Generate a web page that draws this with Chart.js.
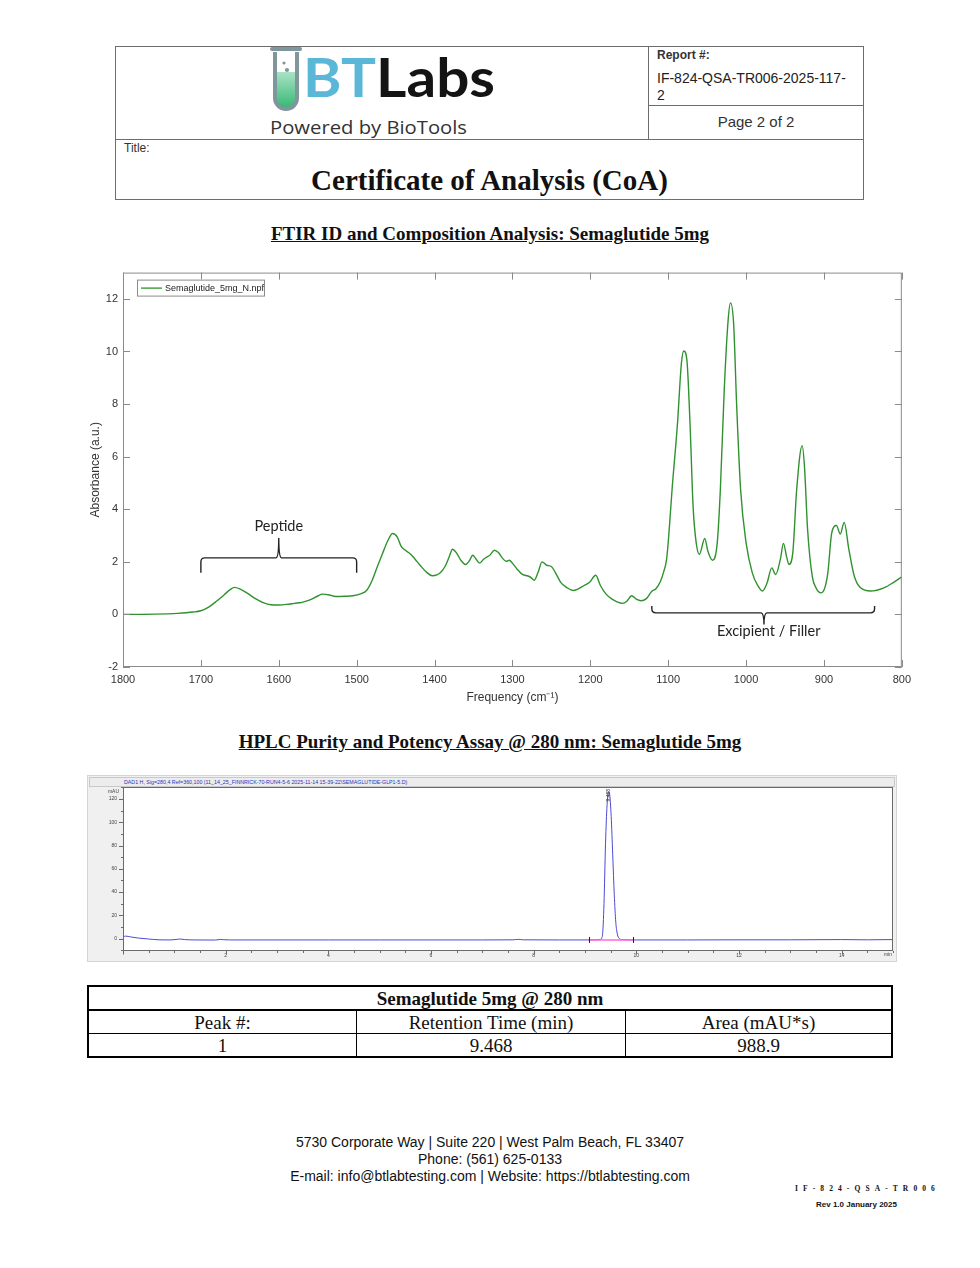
<!DOCTYPE html>
<html>
<head>
<meta charset="utf-8">
<title>Certificate of Analysis - Semaglutide 5mg</title>
<script src="https://cdn.jsdelivr.net/npm/chart.js@4.4.1/dist/chart.umd.min.js"></script>
<style>
  body { margin: 0; background: #fff; }
  #page { position: relative; width: 980px; height: 1268px; overflow: hidden;
          font-family: "Liberation Sans", Arial, sans-serif; color: #111; }
  .abs { position: absolute; }
  .ln { position: absolute; background: #6d6d6d; }
  .serif { font-family: "Liberation Serif", "Times New Roman", serif; }
  .sect { left: 0; width: 980px; text-align: center; font-weight: bold; font-size: 19px; text-decoration: underline; }
  #hplcBox { left: 87px; top: 775px; width: 810px; height: 187px; box-sizing: border-box;
             background: #f0f0f0; border: 1px solid #d4d4d4; }
  #hplcHead { left: 89px; top: 777px; width: 806px; height: 10px; box-sizing: border-box;
              background: #ececec; border: 1px solid #c9c9c9; font-size: 5.3px; line-height: 8px;
              color: #2535c0; padding-left: 34px; white-space: nowrap; }
  table.res { position: absolute; left: 87px; top: 985px; width: 806px; border-collapse: collapse;
              font-family: "Liberation Serif", "Times New Roman", serif; font-size: 19px; }
  table.res td { border: 1px solid #000; text-align: center; padding: 0; height: 22px; line-height: 21px; }
  table.res { border: 2.5px solid #000; }
  table.res tr.top td { font-weight: bold; border-bottom: 2.5px solid #000; }
  .foot { left: 0; width: 980px; text-align: center; font-size: 14px; line-height: 17px; color: #111; }
</style>
</head>
<body>
<div id="page">

  <!-- header block -->
  <div class="abs" style="left:115px;top:46px;width:749px;height:154px;box-sizing:border-box;border:1px solid #6d6d6d;"></div>
  <div class="ln" style="left:648px;top:46px;width:1px;height:93px;"></div>
  <div class="ln" style="left:648px;top:105px;width:216px;height:1px;"></div>
  <div class="ln" style="left:115px;top:139px;width:749px;height:1px;"></div>

  <svg class="abs" style="left:260px;top:44px;" width="250" height="96" viewBox="0 0 250 96">
    <defs>
      <linearGradient id="tubeFill" x1="0" y1="0" x2="0" y2="1">
        <stop offset="0" stop-color="#a9e3c4"/>
        <stop offset="1" stop-color="#35b873"/>
      </linearGradient>
    </defs>
    <path d="M16 28 L16 54 A10 10 0 0 0 36 54 L36 28 Z" fill="url(#tubeFill)"/>
    <path d="M15 8 L15 54 A11 11 0 0 0 37 54 L37 8" fill="none" stroke="#7f969d" stroke-width="4"/>
    <line x1="12" y1="5" x2="40" y2="5" stroke="#7f969d" stroke-width="4" stroke-linecap="round"/>
    <circle cx="24" cy="19" r="1.6" fill="#7f969d"/>
    <circle cx="27" cy="26" r="2.1" fill="#7f969d"/>
    <text x="43" y="53" font-family="Lato, 'Open Sans', sans-serif" font-weight="bold" font-size="54" textLength="192" lengthAdjust="spacingAndGlyphs"><tspan fill="#5bb7d7">BT</tspan><tspan fill="#141414">Labs</tspan></text>
    <text x="10" y="90" font-family="'Open Sans', 'Noto Sans', sans-serif" font-size="18.5" fill="#333" textLength="197" lengthAdjust="spacingAndGlyphs">Powered by BioTools</text>
  </svg>

  <div class="abs" style="left:657px;top:48px;font-size:12px;font-weight:bold;color:#333;">Report #:</div>
  <div class="abs" style="left:657px;top:70px;font-size:14px;line-height:17px;color:#222;">IF-824-QSA-TR006-2025-117-<br>2</div>
  <div class="abs" style="left:648px;top:113px;width:216px;text-align:center;font-size:15px;color:#333;">Page 2 of 2</div>
  <div class="abs" style="left:124px;top:141px;font-size:12px;color:#333;">Title:</div>
  <div class="abs serif" style="left:115px;top:163px;width:749px;text-align:center;font-size:29px;line-height:34px;font-weight:bold;">Certificate of Analysis (CoA)</div>

  <div class="abs serif sect" style="top:223px;">FTIR ID and Composition Analysis: Semaglutide 5mg</div>

  <canvas id="ftir" class="abs" width="837" height="454" style="left:80px;top:261px;width:837px;height:454px;"></canvas>

  <div class="abs serif sect" style="top:731px;">HPLC Purity and Potency Assay @ 280 nm: Semaglutide 5mg</div>

  <div id="hplcBox" class="abs"></div>
  <div id="hplcHead" class="abs">DAD1 H, Sig=280,4 Ref=360,100 (11_14_25_FINNRICK-70-RUN4-5-6 2025-11-14 15-39-22\SEMAGLUTIDE-GLP1-5.D)</div>
  <canvas id="hplc" class="abs" width="806" height="182" style="left:89px;top:778px;width:806px;height:182px;"></canvas>

  <table class="res">
    <tr class="top"><td colspan="3">Semaglutide 5mg @ 280 nm</td></tr>
    <tr><td style="width:267px;">Peak #:</td><td style="width:268px;">Retention Time (min)</td><td>Area (mAU*s)</td></tr>
    <tr><td>1</td><td>9.468</td><td>988.9</td></tr>
  </table>

  <div class="abs foot" style="top:1134px;">5730 Corporate Way | Suite 220 | West Palm Beach, FL 33407<br>Phone: (561) 625-0133<br>E-mail: info@btlabtesting.com | Website: https://btlabtesting.com</div>

  <div class="abs serif" style="left:795px;top:1184px;font-size:7.5px;font-weight:bold;letter-spacing:5.1px;white-space:nowrap;">IF-824-QSA-TR006</div>
  <div class="abs" style="left:816px;top:1200px;font-size:8px;font-weight:bold;white-space:nowrap;">Rev 1.0 January 2025</div>
</div>

<script>
// FTIR spectrum (wavenumber cm-1 / absorbance a.u.)
const ftirFreq = [1800, 1760, 1730, 1710, 1700, 1690, 1680, 1670, 1662, 1657, 1650, 1640, 1630, 1620, 1610,
  1600, 1590, 1580, 1570, 1560, 1550, 1544, 1535, 1527, 1515, 1505, 1495, 1487, 1480, 1473,
  1467, 1460, 1454, 1448, 1443, 1438, 1431, 1425, 1418, 1410, 1403, 1397, 1392, 1386, 1381,
  1377, 1372, 1366, 1360, 1355, 1351, 1347, 1342, 1337, 1333, 1329, 1323, 1318, 1313, 1308,
  1304, 1300, 1294, 1287, 1280, 1276, 1272, 1267, 1262, 1256, 1250, 1245, 1238, 1230, 1222,
  1215, 1208, 1201, 1193, 1187, 1180, 1172, 1165, 1159, 1153, 1147, 1141, 1135, 1128, 1121,
  1116, 1110, 1106, 1102, 1099, 1095, 1088, 1083, 1080, 1076, 1072, 1068, 1064, 1060, 1053,
  1049, 1043, 1037, 1033, 1028, 1023, 1020, 1016, 1012, 1007, 1000, 992, 985, 979, 973,
  967, 962, 956, 952, 948, 945, 940, 935, 928, 925, 921, 915, 910, 904, 899,
  895, 890, 884, 879, 874, 868, 861, 853, 840, 823, 810, 800];
const ftirAbs = [0.00, 0.01, 0.04, 0.09, 0.14, 0.28, 0.50, 0.75, 0.95, 1.03, 0.97, 0.80, 0.60, 0.45, 0.37,
  0.36, 0.38, 0.42, 0.46, 0.55, 0.70, 0.77, 0.74, 0.68, 0.69, 0.71, 0.78, 0.92, 1.30, 1.85,
  2.30, 2.80, 3.08, 2.95, 2.60, 2.45, 2.30, 2.10, 1.85, 1.60, 1.47, 1.50, 1.60, 1.85, 2.20,
  2.48, 2.35, 2.05, 1.90, 2.05, 2.25, 2.12, 1.95, 2.10, 2.18, 2.25, 2.44, 2.35, 2.15, 2.02,
  2.06, 1.95, 1.72, 1.52, 1.46, 1.40, 1.30, 1.60, 2.00, 1.87, 1.82, 1.60, 1.22, 1.02, 0.91,
  0.98, 1.10, 1.22, 1.49, 1.10, 0.78, 0.58, 0.47, 0.42, 0.50, 0.71, 0.58, 0.52, 0.60, 0.88,
  0.97, 1.25, 1.60, 2.10, 3.10, 4.75, 7.28, 9.56, 10.02, 9.68, 7.30, 4.10, 2.72, 2.28, 2.89,
  2.40, 2.06, 2.72, 4.75, 8.55, 11.20, 11.85, 11.08, 7.90, 4.75, 2.73, 1.58, 1.10, 0.89, 1.20,
  1.77, 1.52, 2.09, 2.70, 2.20, 1.90, 2.34, 4.75, 6.42, 5.63, 3.23, 1.45, 1.00, 0.82, 1.00,
  1.58, 3.10, 3.38, 3.06, 3.50, 2.47, 1.45, 1.01, 0.89, 1.01, 1.23, 1.43];
const ftirXTicks = [1800, 1700, 1600, 1500, 1400, 1300, 1200, 1100, 1000, 900, 800];
const ftirYTicks = [-2, 0, 2, 4, 6, 8, 10, 12];
const ftirSeriesName = 'Semaglutide_5mg_N.npf';

// bracket annotations: [label, x from, x to, x mid, y line, y ends, y tip, label x, label y]
const ftirBrackets = [
  ['Peptide', 1700, 1500, 1600, 2.15, 1.58, 2.91, 1600, 3.35],
  ['Excipient / Filler', 1121, 835, 977, 0.06, 0.32, -0.38, 971, -0.63]
];

// HPLC chromatogram (min / mAU)
const hplcTime = [0, 0.05, 0.15, 0.3, 0.5, 0.7, 0.9, 1.05, 1.1, 1.2, 1.4, 1.8, 1.9, 1.95, 2.2, 3, 4, 5, 6, 7,
  7.6, 7.7, 7.8, 8.5, 9.0, 9.2, 9.3, 9.34, 9.37, 9.40, 9.43, 9.46, 9.48, 9.51, 9.54, 9.57, 9.60, 9.63, 9.67, 9.72,
  10, 11, 12, 13, 14, 14.5, 15];
const hplcAbs = [1.5, 2.2, 1.5, 0.5, -0.3, -1.0, -1.1, -0.6, -0.3, -0.8, -1.1, -1.2, -0.6, -0.9, -1.1, -1.1, -1.1, -1.1, -1.1, -1.1,
  -1.0, -0.6, -1.0, -1.1, -1.1, -1.0, -0.6, 3, 30, 82, 115, 126, 124, 105, 72, 38, 14, 4, 0, -0.8,
  -1.1, -1.1, -1.0, -1.0, -0.8, -1.0, -0.8];
const hplcBaseTime = [9.07, 9.94];
const hplcBaseAbs = [-1.1, -1.1];
const hplcPeakRT = 9.468;
const hplcPeakLabel = '9.468';

const SANS = '"Liberation Sans", Arial, sans-serif';

function toPoints(xs, ys) {
  return xs.map((x, i) => ({ x, y: ys[i] }));
}

function drawBracket(ctx, x, y, b) {
  const [label, xa, xb, xm, yl, ye, yt, lx, ly] = b;
  const pa = x.getPixelForValue(xa), pb = x.getPixelForValue(xb), pm = x.getPixelForValue(xm);
  const pl = y.getPixelForValue(yl), pe = y.getPixelForValue(ye), pt = y.getPixelForValue(yt);
  const dir = pb > pa ? 1 : -1;
  const se = pe > pl ? 1 : -1;
  const r = 4;
  ctx.beginPath();
  ctx.moveTo(pa, pe);
  ctx.lineTo(pa, pl + se * r);
  ctx.quadraticCurveTo(pa, pl, pa + dir * r, pl);
  ctx.lineTo(pm - dir * 3, pl);
  ctx.quadraticCurveTo(pm, pl, pm, pt);
  ctx.quadraticCurveTo(pm, pl, pm + dir * 3, pl);
  ctx.lineTo(pb - dir * r, pl);
  ctx.quadraticCurveTo(pb, pl, pb, pl + se * r);
  ctx.lineTo(pb, pe);
  ctx.stroke();
  ctx.fillText(label, x.getPixelForValue(lx), y.getPixelForValue(ly));
}

const ftirDecor = {
  id: 'ftirDecor',
  afterDraw(chart) {
    const { ctx, chartArea: a, scales: { x, y } } = chart;
    ctx.save();
    ctx.strokeStyle = '#8a8a8a';
    ctx.lineWidth = 1;
    ctx.strokeRect(a.left + 0.5, a.top + 0.5, a.width - 1, a.height - 1);
    ctx.beginPath();
    ftirXTicks.forEach(v => {
      const px = Math.round(x.getPixelForValue(v)) + 0.5;
      ctx.moveTo(px, a.bottom); ctx.lineTo(px, a.bottom - 7);
      ctx.moveTo(px, a.top); ctx.lineTo(px, a.top + 7);
    });
    ftirYTicks.forEach(v => {
      const py = Math.round(y.getPixelForValue(v)) + 0.5;
      ctx.moveTo(a.left, py); ctx.lineTo(a.left + 7, py);
      ctx.moveTo(a.right, py); ctx.lineTo(a.right - 7, py);
    });
    ctx.stroke();

    // axis titles
    ctx.fillStyle = '#333';
    ctx.font = '12px ' + SANS;
    ctx.textAlign = 'center';
    ctx.textBaseline = 'middle';
    ctx.fillText('Frequency (cm\u207B\u00B9)', (a.left + a.right) / 2, a.bottom + 31);
    ctx.save();
    ctx.translate(a.left - 27, (a.top + a.bottom) / 2);
    ctx.rotate(-Math.PI / 2);
    ctx.fillText('Absorbance (a.u.)', 0, 0);
    ctx.restore();

    // legend
    ctx.fillStyle = '#fff';
    ctx.fillRect(a.left + 14, a.top + 7, 127, 16);
    ctx.strokeStyle = '#8a8a8a';
    ctx.strokeRect(a.left + 14.5, a.top + 7.5, 127, 16);
    ctx.strokeStyle = '#2f922f';
    ctx.lineWidth = 1.3;
    ctx.beginPath();
    ctx.moveTo(a.left + 18, a.top + 15.5); ctx.lineTo(a.left + 39, a.top + 15.5);
    ctx.stroke();
    ctx.fillStyle = '#222';
    ctx.font = '9px ' + SANS;
    ctx.textAlign = 'left';
    ctx.fillText(ftirSeriesName, a.left + 42, a.top + 16);

    // brackets
    ctx.strokeStyle = '#222';
    ctx.lineWidth = 1.4;
    ctx.fillStyle = '#222';
    ctx.font = '14.5px Lato, "Open Sans", sans-serif';
    ctx.textAlign = 'center';
    ftirBrackets.forEach(b => drawBracket(ctx, x, y, b));
    ctx.restore();
  }
};

new Chart(document.getElementById('ftir'), {
  type: 'line',
  data: {
    datasets: [{
      label: ftirSeriesName,
      data: toPoints(ftirFreq, ftirAbs),
      borderColor: '#2f922f',
      borderWidth: 1.4,
      pointRadius: 0,
      cubicInterpolationMode: 'monotone',
      fill: false
    }]
  },
  options: {
    responsive: false,
    animation: false,
    devicePixelRatio: 1,
    layout: { padding: { top: 4, right: 10, left: 0, bottom: 0 } },
    plugins: { legend: { display: false }, tooltip: { enabled: false } },
    scales: {
      x: {
        type: 'linear', reverse: true, min: 800, max: 1800,
        grid: { display: false, drawTicks: false }, border: { display: false },
        afterBuildTicks: s => { s.ticks = ftirXTicks.map(v => ({ value: v })); },
        afterFit: s => { s.height = 48; },
        ticks: { padding: 6, color: '#333', font: { family: SANS, size: 11 }, maxRotation: 0, autoSkip: false,
                 callback: v => String(v) }
      },
      y: {
        min: -2, max: 13,
        grid: { display: false, drawTicks: false }, border: { display: false },
        afterBuildTicks: s => { s.ticks = ftirYTicks.map(v => ({ value: v })); },
        afterFit: s => { s.width = 43; },
        ticks: { padding: 5, color: '#333', font: { family: SANS, size: 11 }, callback: v => String(v) }
      }
    }
  },
  plugins: [ftirDecor]
});

const hplcDecor = {
  id: 'hplcDecor',
  beforeDraw(chart) {
    const { ctx, chartArea: a } = chart;
    ctx.save();
    ctx.fillStyle = '#fff';
    ctx.fillRect(a.left, a.top, a.width, a.height);
    ctx.restore();
  },
  afterDraw(chart) {
    const { ctx, chartArea: a, scales: { x, y } } = chart;
    ctx.save();
    ctx.strokeStyle = '#6a6a6a';
    ctx.lineWidth = 1;
    ctx.strokeRect(a.left + 0.5, a.top + 0.5, a.width - 1, a.height - 1);
    ctx.beginPath();
    x.ticks.forEach(t => {
      const px = Math.round(x.getPixelForValue(t.value)) + 0.5;
      const len = t.value % 2 === 0 ? 3.5 : 2;
      ctx.moveTo(px, a.bottom); ctx.lineTo(px, a.bottom + len);
    });
    y.ticks.forEach(t => {
      const py = Math.round(y.getPixelForValue(t.value)) + 0.5;
      const len = t.value % 20 === 0 ? 4 : 2;
      ctx.moveTo(a.left, py); ctx.lineTo(a.left - len, py);
    });
    ctx.stroke();

    ctx.fillStyle = '#444';
    ctx.font = '5px ' + SANS;
    ctx.textAlign = 'right';
    ctx.textBaseline = 'middle';
    ctx.fillText('mAU', a.left - 4, a.top + 5);
    ctx.textAlign = 'center';
    ctx.fillText('min', a.right - 5, a.bottom + 4);

    // integration start/end marks
    ctx.strokeStyle = '#222';
    ctx.beginPath();
    hplcBaseTime.forEach((t, i) => {
      const px = Math.round(x.getPixelForValue(t)) + 0.5;
      const py = y.getPixelForValue(hplcBaseAbs[i]);
      ctx.moveTo(px, py - 3); ctx.lineTo(px, py + 3);
    });
    ctx.stroke();

    // retention time label, vertical
    ctx.fillStyle = '#333';
    ctx.font = '5px ' + SANS;
    ctx.save();
    ctx.translate(x.getPixelForValue(hplcPeakRT), a.top + 2);
    ctx.rotate(-Math.PI / 2);
    ctx.textAlign = 'right';
    ctx.fillText(hplcPeakLabel, 0, 0);
    ctx.restore();
    ctx.restore();
  }
};

new Chart(document.getElementById('hplc'), {
  type: 'line',
  data: {
    datasets: [{
      label: 'DAD1 H',
      data: toPoints(hplcTime, hplcAbs),
      borderColor: '#4b4bd6',
      borderWidth: 1,
      pointRadius: 0,
      cubicInterpolationMode: 'monotone',
      order: 1
    }, {
      label: 'baseline',
      data: toPoints(hplcBaseTime, hplcBaseAbs),
      borderColor: '#ff6ad8',
      borderWidth: 1.5,
      pointRadius: 0,
      order: 0
    }]
  },
  options: {
    responsive: false,
    animation: false,
    devicePixelRatio: 1,
    layout: { padding: { top: 1, right: 2, left: 0, bottom: 0 } },
    plugins: { legend: { display: false }, tooltip: { enabled: false } },
    scales: {
      x: {
        type: 'linear', min: 0, max: 15,
        grid: { display: false, drawTicks: false }, border: { display: false },
        afterFit: s => { s.height = 8.5; },
        ticks: {
          stepSize: 0.5, autoSkip: false, maxRotation: 0, padding: 1.5, color: '#444',
          font: { family: SANS, size: 5 },
          callback: v => (v > 0 && v < 15 && v % 2 === 0) ? String(v) : ''
        }
      },
      y: {
        min: -10.6, max: 130.3,
        grid: { display: false, drawTicks: false }, border: { display: false },
        afterFit: s => { s.width = 34; },
        ticks: {
          stepSize: 10, includeBounds: false, autoSkip: false, padding: 6, color: '#444',
          font: { family: SANS, size: 5 },
          callback: v => (v >= 0 && v <= 120 && v % 20 === 0) ? String(v) : ''
        }
      }
    }
  },
  plugins: [hplcDecor]
});
</script>
</body>
</html>
